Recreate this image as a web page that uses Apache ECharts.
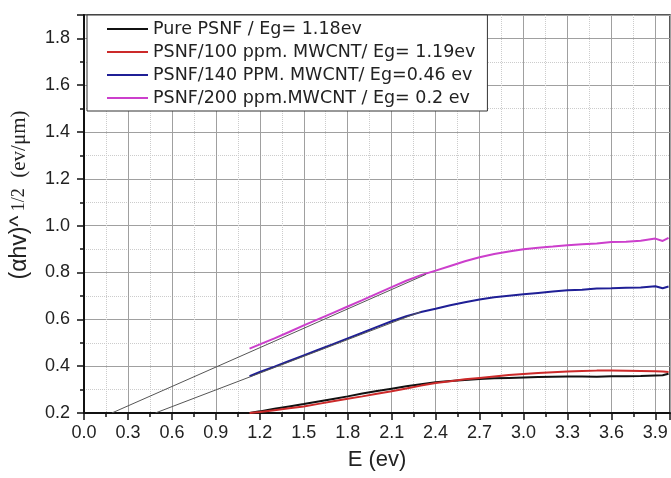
<!DOCTYPE html>
<html>
<head>
<meta charset="utf-8">
<script src="https://cdn.jsdelivr.net/npm/echarts@6/dist/echarts.min.js"></script>
<style>
  html, body { margin: 0; padding: 0; background: #fff; }
  #chart { width: 671px; height: 478px; }
</style>
</head>
<body>
<div id="chart"></div>
<script>
// photon energy (eV)
const energy = [1.13, 1.2, 1.3, 1.4, 1.5, 1.6, 1.7, 1.8, 1.9, 2.0, 2.1, 2.2, 2.3, 2.4, 2.5, 2.6,
  2.7, 2.8, 2.9, 3.0, 3.1, 3.2, 3.3, 3.4, 3.5, 3.6, 3.7, 3.8, 3.9, 3.95, 3.99];

const purePsnf = [0.200, 0.207, 0.218, 0.228, 0.238, 0.249, 0.260, 0.271, 0.283, 0.294, 0.304, 0.314,
  0.323, 0.331, 0.337, 0.341, 0.345, 0.348, 0.350, 0.352, 0.354, 0.355, 0.356, 0.356, 0.355, 0.357,
  0.357, 0.358, 0.360, 0.361, 0.368];
const psnf100 = [0.200, 0.204, 0.212, 0.220, 0.228, 0.239, 0.250, 0.261, 0.271, 0.282, 0.293, 0.305,
  0.317, 0.328, 0.336, 0.344, 0.350, 0.356, 0.362, 0.367, 0.371, 0.374, 0.377, 0.379, 0.381, 0.381,
  0.380, 0.379, 0.378, 0.377, 0.375];
const psnf140 = [0.357, 0.375, 0.398, 0.422, 0.446, 0.470, 0.494, 0.519, 0.543, 0.568, 0.592, 0.613,
  0.631, 0.645, 0.660, 0.673, 0.685, 0.694, 0.701, 0.707, 0.713, 0.719, 0.724, 0.726, 0.732, 0.733,
  0.735, 0.736, 0.741, 0.733, 0.740];
const psnf200 = [0.475, 0.493, 0.519, 0.546, 0.574, 0.601, 0.628, 0.655, 0.682, 0.710, 0.738, 0.765,
  0.789, 0.808, 0.828, 0.848, 0.865, 0.879, 0.890, 0.899, 0.906, 0.911, 0.917, 0.921, 0.924, 0.930,
  0.931, 0.936, 0.945, 0.935, 0.948];

// extrapolated tangent lines (Tauc fits)
const fit140X = [0.487, 2.30];
const fit140Y = [0.2, 0.633];
const fit200X = [0.19, 2.334];
const fit200Y = [0.2, 0.792];

const names = [
  'Pure PSNF / Eg= 1.18ev',
  'PSNF/100 ppm. MWCNT/ Eg= 1.19ev',
  'PSNF/140 PPM. MWCNT/ Eg=0.46 ev',
  'PSNF/200 ppm.MWCNT / Eg= 0.2 ev'
];
const colors = ['#111111', '#cc2a2a', '#1f1f96', '#cc3fcc'];
const curves = [purePsnf, psnf100, psnf140, psnf200];

const pairs = (xs, ys) => xs.map((x, i) => [x, ys[i]]);

const chart = echarts.init(document.getElementById('chart'));

const lineSeries = curves.map((ys, i) => ({
  name: names[i],
  type: 'line',
  data: pairs(energy, ys),
  showSymbol: false,
  z: 3,
  color: colors[i],
  lineStyle: { width: 2, color: colors[i] }
}));

const fitSeries = [[fit140X, fit140Y], [fit200X, fit200Y]].map(([xs, ys]) => ({
  type: 'line',
  data: pairs(xs, ys),
  showSymbol: false,
  z: 4,
  lineStyle: { width: 1, color: '#555' }
}));

const labelFont = { fontFamily: 'Liberation Sans', fontSize: 18, color: '#222' };

chart.setOption({
  animation: false,
  backgroundColor: '#fff',
  grid: {
    left: 84, top: 15, right: 1, bottom: 65,
    show: true, borderColor: '#222', borderWidth: 1.5
  },
  legend: {
    data: names,
    orient: 'vertical',
    left: 87, top: 15,
    backgroundColor: '#fff',
    borderColor: '#333', borderWidth: 1,
    padding: [5, 12, 4, 20],
    itemGap: 5,
    itemWidth: 41, itemHeight: 2,
    itemTextGap: 6,
    icon: 'rect',
    textStyle: { fontFamily: 'DejaVu Sans', fontSize: 17.5, color: '#222' }
  },
  xAxis: {
    type: 'value',
    min: 0, max: 4.0, interval: 0.3,
    name: 'E (ev)',
    nameLocation: 'middle',
    nameGap: 36,
    nameTextStyle: { fontFamily: 'Liberation Sans', fontSize: 22, color: '#222' },
    axisLine: { show: true, lineStyle: { color: '#111', width: 2 } },
    axisTick: { show: true, inside: false, length: 7, lineStyle: { color: '#111', width: 1.5 } },
    minorTick: { show: true, splitNumber: 2, length: 4, lineStyle: { color: '#111', width: 1.5 } },
    axisLabel: Object.assign({ margin: 11, showMaxLabel: false, formatter: v => v.toFixed(1) }, labelFont),
    splitLine: { show: true, lineStyle: { color: '#a0a0a0', width: 1 } },
    minorSplitLine: { show: true, lineStyle: { color: '#ccc', type: 'dotted', width: 1 } }
  },
  yAxis: {
    type: 'value',
    min: 0.2, max: 1.9, interval: 0.2,
    name: '{a|(αhv)^}{b| 1/2}{c|  (ev/μm)}',
    nameLocation: 'middle',
    nameRotate: 90,
    nameGap: 53,
    nameTextStyle: {
      padding: [0, 0, 0, 38],
      rich: {
        a: { fontFamily: 'Liberation Sans', fontSize: 23, color: '#222' },
        b: { fontFamily: 'Liberation Serif', fontSize: 18, color: '#222' },
        c: { fontFamily: 'Liberation Serif', fontSize: 21, color: '#222' }
      }
    },
    axisLine: { show: true, lineStyle: { color: '#111', width: 2 } },
    axisTick: { show: true, inside: false, length: 7, lineStyle: { color: '#111', width: 1.5 } },
    minorTick: { show: true, splitNumber: 2, length: 4, lineStyle: { color: '#111', width: 1.5 } },
    axisLabel: Object.assign({ margin: 14, showMaxLabel: false, formatter: v => v.toFixed(1) }, labelFont),
    splitLine: { show: true, lineStyle: { color: '#a0a0a0', width: 1 } },
    minorSplitLine: { show: true, lineStyle: { color: '#ccc', type: 'dotted', width: 1 } }
  },
  series: lineSeries.concat(fitSeries)
});
</script>
</body>
</html>
